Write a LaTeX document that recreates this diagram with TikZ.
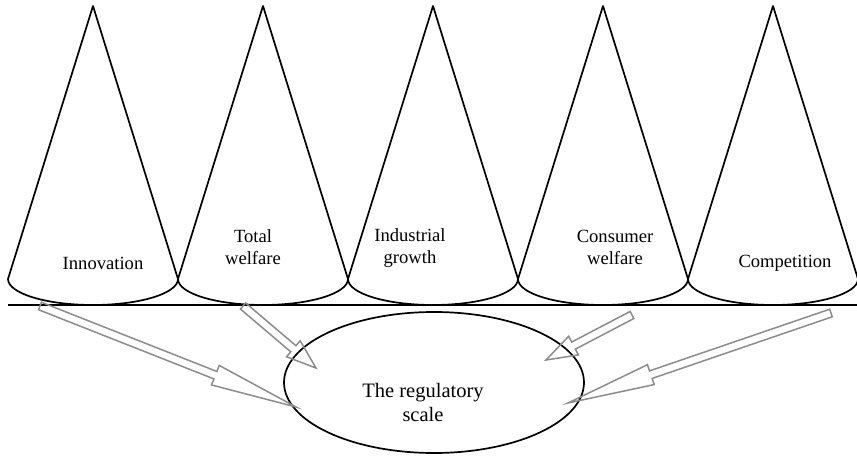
\documentclass[tikz,border=0pt]{standalone}
\usepackage{fontspec}
\setmainfont{Liberation Serif}
\usetikzlibrary{calc,shapes.geometric}
\definecolor{arrowgray}{HTML}{8C8C8C}

% hollow block arrow: #1 tail, #2 tip, #3 fraction of the length where the head starts
\newcommand\blockarrow[3]{%
  \coordinate (ba-h) at ($(#1)!#3!(#2)$);
  \draw[arrowline]
    ($(#1)!4pt!90:(#2)$) -- ($(ba-h)!4pt!90:(#2)$) -- ($(ba-h)!10.5pt!90:(#2)$)
    -- (#2)
    -- ($(ba-h)!10.5pt!-90:(#2)$) -- ($(ba-h)!4pt!-90:(#2)$) -- ($(#1)!4pt!-90:(#2)$)
    -- cycle;
}

\begin{document}
\begin{tikzpicture}[x=1pt,y=-1pt,
  outline/.style={line width=1.7pt, draw=black},
  arrowline/.style={draw=arrowgray, line width=1.5pt, line join=miter},
  conelabel/.style={align=center, inner sep=0pt, font=\fontsize{18.6}{22}\selectfont},
  scalelabel/.style={align=center, inner sep=0pt, font=\fontsize{20.5}{24}\selectfont},
]
\useasboundingbox (0,0) rectangle (857,457);

% five cones standing on the base line
\foreach \c in {93,263,433,603,773}{
  \draw[outline, line join=round] (\c-85,279) -- (\c,6) -- (\c+85,279);
  \draw[outline] (\c-85,279) arc[start angle=180, end angle=360, x radius=85pt, y radius=26pt];
}

% base line
\coordinate (base-l) at (8,305);
\coordinate (base-r) at (857,305);
\draw[outline] (base-l) -- (base-r);

% cone labels
\node[conelabel] (innov) at (103,263.5) {Innovation};
\node[conelabel] (totw)  at (253,247) {Total\\welfare};
\node[conelabel] (indg)  at (410,248.5) {Industrial\\growth};
\node[conelabel] (consw) at (615,247) {Consumer\\welfare};
\node[conelabel] (comp)  at (785,263.5) {Competition};

% the regulatory scale
\node[ellipse, outline, minimum width=300pt, minimum height=141pt, inner sep=0pt] (reg) at (434,382.5) {};
\node[scalelabel] (regtext) at (423,402) {The regulatory\\scale};

% arrow ends
\coordinate (t1) at (40,306);  \coordinate (p1) at (296,407);
\coordinate (t2) at (243,306); \coordinate (p2) at (316,368);
\coordinate (t3) at (632,315); \coordinate (p3) at (546,360);
\coordinate (t4) at (831,313); \coordinate (p4) at (568,403);

\blockarrow{t1}{p1}{0.685}
\blockarrow{t2}{p2}{0.69}
\blockarrow{t3}{p3}{0.68}
\blockarrow{t4}{p4}{0.685}
\end{tikzpicture}
\end{document}
